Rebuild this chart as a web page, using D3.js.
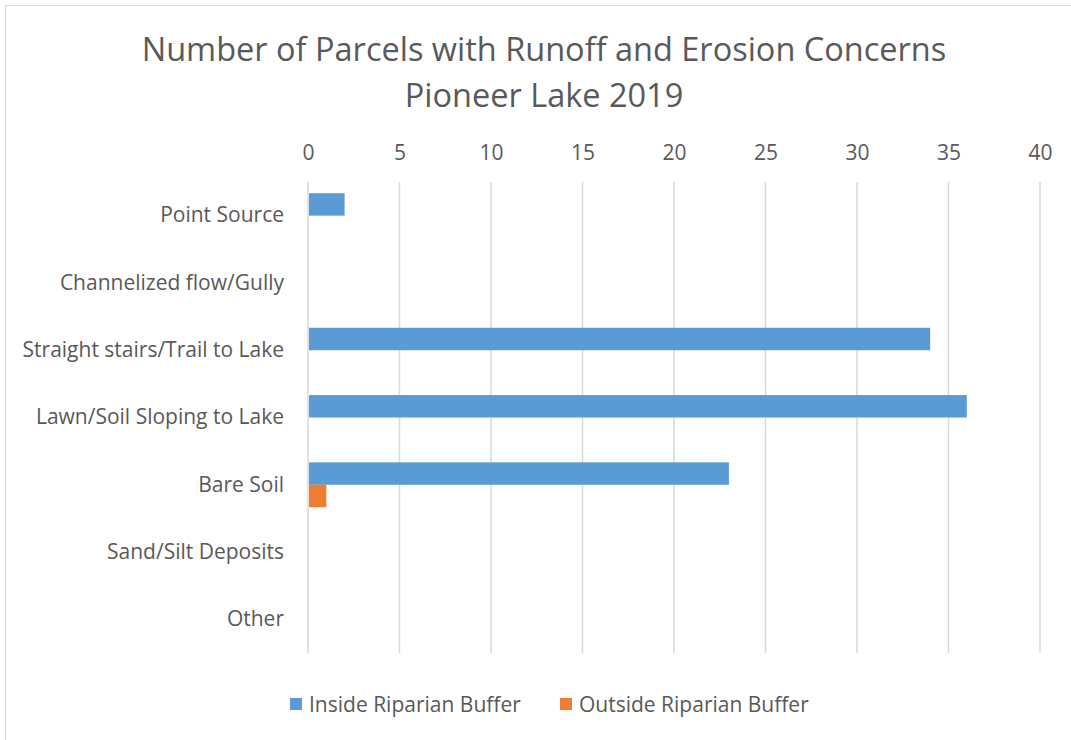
<!DOCTYPE html>
<html>
<head>
<meta charset="utf-8">
<script src="https://cdn.jsdelivr.net/npm/d3@7"></script>
<style>
  body { margin: 0; background: #fff; }
  text { font-family: "Open Sans", sans-serif; fill: #595959; }
</style>
</head>
<body>
<div class="chart_wrapper"></div>
<script>
const categories = ["Point Source", "Channelized flow/Gully", "Straight stairs/Trail to Lake",
  "Lawn/Soil Sloping to Lake", "Bare Soil", "Sand/Silt Deposits", "Other"]
const insideBuffer = [2, 0, 34, 36, 23, 0, 0]
const outsideBuffer = [0, 0, 0, 0, 1, 0, 0]
const seriesNames = ["Inside Riparian Buffer", "Outside Riparian Buffer"]
const seriesColors = ["#5b9bd5", "#ed7d31"]
const xTicks = [0, 5, 10, 15, 20, 25, 30, 35, 40]

let dimensions = {
  width: 1071,
  height: 740,
  margin: { top: 182, right: 31, bottom: 87, left: 308 },
}
dimensions.boundedWidth = dimensions.width - dimensions.margin.left - dimensions.margin.right
dimensions.boundedHeight = dimensions.height - dimensions.margin.top - dimensions.margin.bottom

const wrapper = d3.select(".chart_wrapper")
  .append("svg")
  .attr("width", dimensions.width)
  .attr("height", dimensions.height)

// chart frame
wrapper.append("rect")
  .attr("x", 5.5).attr("y", 5.5)
  .attr("width", dimensions.width).attr("height", dimensions.height)
  .attr("fill", "none").attr("stroke", "#d9d9d9")

wrapper.append("text")
  .attr("x", 544).attr("y", 61)
  .attr("text-anchor", "middle").style("font-size", "32.5px")
  .text("Number of Parcels with Runoff and Erosion Concerns")
wrapper.append("text")
  .attr("x", 544).attr("y", 107)
  .attr("text-anchor", "middle").style("font-size", "32.5px")
  .text("Pioneer Lake 2019")

const bounds = wrapper.append("g")
  .attr("transform", `translate(${dimensions.margin.left}, ${dimensions.margin.top})`)

const xScale = d3.scaleLinear()
  .domain([0, 40])
  .range([0, dimensions.boundedWidth])

const yScale = d3.scaleBand()
  .domain(categories)
  .range([0, dimensions.boundedHeight])

const subScale = d3.scaleBand()
  .domain([0, 1])
  .range([0, yScale.bandwidth()])
  .paddingOuter(0.5)

// gridlines
bounds.selectAll(".grid")
  .data(xTicks)
  .join("line")
  .attr("x1", d => xScale(d)).attr("x2", d => xScale(d))
  .attr("y1", 0).attr("y2", dimensions.boundedHeight)
  .attr("stroke", "#d9d9d9").attr("stroke-width", 1.5)

const xAxis = d3.axisTop(xScale).tickValues(xTicks).tickSize(0).tickPadding(22)
const xAxisGroup = bounds.append("g").call(xAxis)
xAxisGroup.select(".domain").remove()
xAxisGroup.selectAll("text").style("font-size", "21px").attr("fill", "#595959")
  .attr("dy", "0")

const yAxis = d3.axisLeft(yScale).tickSize(0).tickPadding(24)
const yAxisGroup = bounds.append("g").call(yAxis)
yAxisGroup.select(".domain").remove()
yAxisGroup.selectAll("text").style("font-size", "21px").attr("fill", "#595959")

const series = [insideBuffer, outsideBuffer]
series.forEach((values, i) => {
  bounds.selectAll(".bar" + i)
    .data(values)
    .join("rect")
    .attr("x", xScale(0) + 1)
    .attr("y", (d, j) => yScale(categories[j]) + subScale(i))
    .attr("width", d => d > 0 ? xScale(d) - xScale(0) - 1 : 0)
    .attr("height", subScale.bandwidth())
    .attr("fill", seriesColors[i])
})

// legend
const legendX = [290, 560]
const legend = wrapper.selectAll(".legend")
  .data(seriesNames)
  .join("g")
  .attr("transform", (d, i) => `translate(${legendX[i]}, 698)`)
legend.append("rect")
  .attr("width", 12).attr("height", 12)
  .attr("fill", (d, i) => seriesColors[i])
legend.append("text")
  .attr("x", 19).attr("y", 14)
  .style("font-size", "21px")
  .text(d => d)
</script>
</body>
</html>
